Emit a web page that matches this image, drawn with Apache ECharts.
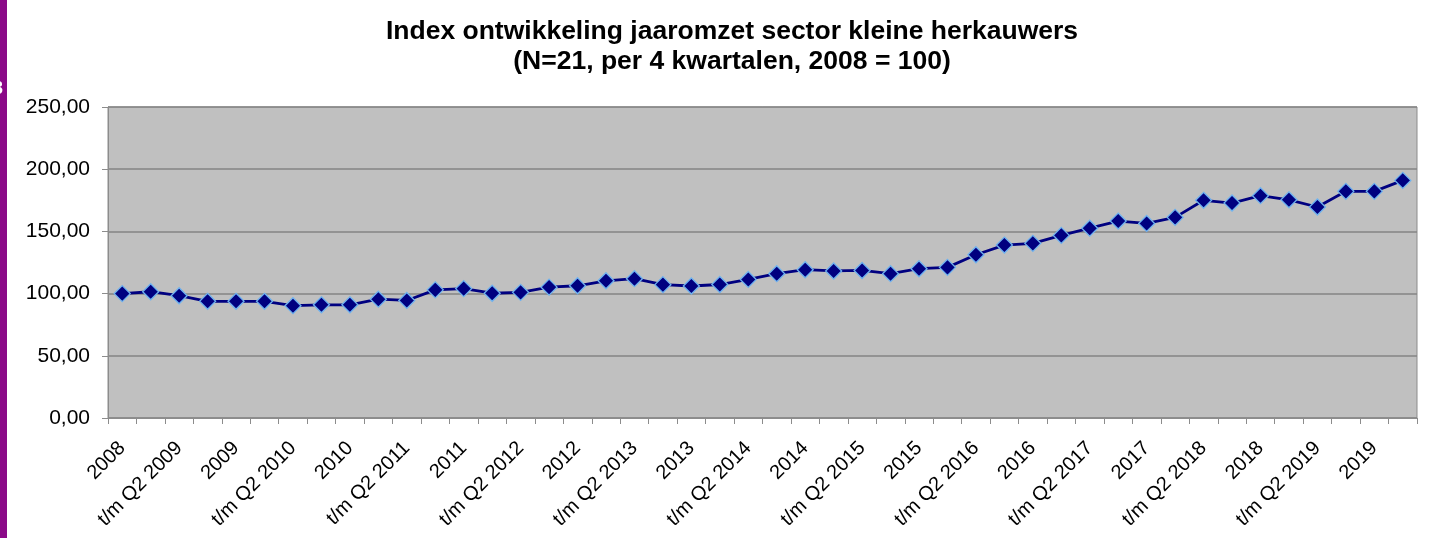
<!DOCTYPE html>
<html>
<head>
<meta charset="utf-8">
<script src="https://cdn.jsdelivr.net/npm/echarts@6/dist/echarts.min.js"></script>
<style>
  html, body { margin: 0; padding: 0; background: #ffffff; }
  #chart { width: 1432px; height: 538px; }
</style>
</head>
<body>
<div id="chart"></div>
<script>
// categories: rolling 4-quarter periods
const categories = [
  "2008","t/m Q1 2009","t/m Q2 2009","t/m Q3 2009",
  "2009","t/m Q1 2010","t/m Q2 2010","t/m Q3 2010",
  "2010","t/m Q1 2011","t/m Q2 2011","t/m Q3 2011",
  "2011","t/m Q1 2012","t/m Q2 2012","t/m Q3 2012",
  "2012","t/m Q1 2013","t/m Q2 2013","t/m Q3 2013",
  "2013","t/m Q1 2014","t/m Q2 2014","t/m Q3 2014",
  "2014","t/m Q1 2015","t/m Q2 2015","t/m Q3 2015",
  "2015","t/m Q1 2016","t/m Q2 2016","t/m Q3 2016",
  "2016","t/m Q1 2017","t/m Q2 2017","t/m Q3 2017",
  "2017","t/m Q1 2018","t/m Q2 2018","t/m Q3 2018",
  "2018","t/m Q1 2019","t/m Q2 2019","t/m Q3 2019",
  "2019","t/m Q1 2020"
];
const indexValues = [
  100.0, 101.5, 98.3, 93.8, 93.8, 93.8, 90.3, 91.0, 91.0, 95.5, 94.5, 103.0,
  104.0, 100.3, 101.0, 105.2, 106.3, 110.3, 112.0, 107.2, 106.1, 107.3, 111.4, 116.0,
  119.2, 118.2, 118.6, 116.0, 120.0, 121.1, 131.2, 139.0, 140.4, 146.8, 152.6, 158.3,
  156.4, 161.3, 175.0, 172.8, 178.7, 175.4, 169.6, 182.2, 182.2, 191.0
];
const yTicks = { min: 0, max: 250, interval: 50 };
const titleLines = ["Index ontwikkeling jaaromzet sector kleine herkauwers", "(N=21, per 4 kwartalen, 2008 = 100)"];

const chart = echarts.init(document.getElementById('chart'), null, { renderer: 'canvas' });
chart.setOption({
  backgroundColor: '#ffffff',
  animation: false,
  textStyle: { fontFamily: 'Liberation Sans, Arial, sans-serif' },
  title: {
    text: titleLines.join('\n'),
    left: 727,
    textAlign: 'center',
    top: 12,
    textStyle: {
      fontFamily: 'Liberation Sans, Arial, sans-serif',
      fontWeight: 'bold',
      fontSize: 26.5,
      lineHeight: 30,
      color: '#000000'
    }
  },
  graphic: [
    { type: 'rect', left: 0, top: 0, shape: { width: 7, height: 538 }, style: { fill: '#8B0A88' }, z: 100 },
    { type: 'text', left: -7, top: 80, style: { text: '3', fill: '#ffffff', font: 'bold 18px Liberation Sans, Arial' }, z: 101 }
  ],
  grid: {
    left: 108, right: 15, top: 107, bottom: 120,
    show: true,
    backgroundColor: '#C0C0C0',
    borderColor: '#8C8C8C',
    borderWidth: 1
  },
  xAxis: {
    type: 'category',
    data: categories,
    boundaryGap: true,
    axisLine: { show: true, lineStyle: { color: '#8C8C8C', width: 1 } },
    axisTick: { show: true, interval: 0, length: 6, lineStyle: { color: '#8C8C8C' } },
    axisLabel: {
      interval: 1,
      rotate: 45,
      margin: 27,
      fontSize: 20,
      color: '#000000',
      fontFamily: 'Liberation Sans, Arial, sans-serif'
    },
    splitLine: { show: false }
  },
  yAxis: {
    type: 'value',
    min: yTicks.min,
    max: yTicks.max,
    interval: yTicks.interval,
    axisLine: { show: true, lineStyle: { color: '#8C8C8C', width: 1 } },
    axisTick: { show: true, length: 6, lineStyle: { color: '#8C8C8C' } },
    axisLabel: {
      fontSize: 21,
      margin: 18,
      color: '#000000',
      fontFamily: 'Liberation Sans, Arial, sans-serif',
      formatter: v => v.toFixed(2).replace('.', ',')
    },
    splitLine: { show: true, lineStyle: { color: '#858585', width: 1.5 } }
  },
  series: [{
    type: 'line',
    data: indexValues,
    symbol: 'diamond',
    symbolSize: 16,
    lineStyle: { color: '#000080', width: 2.8 },
    itemStyle: { color: '#000080', borderColor: '#6FB3F0', borderWidth: 1.3 }
  }]
});
</script>
</body>
</html>
